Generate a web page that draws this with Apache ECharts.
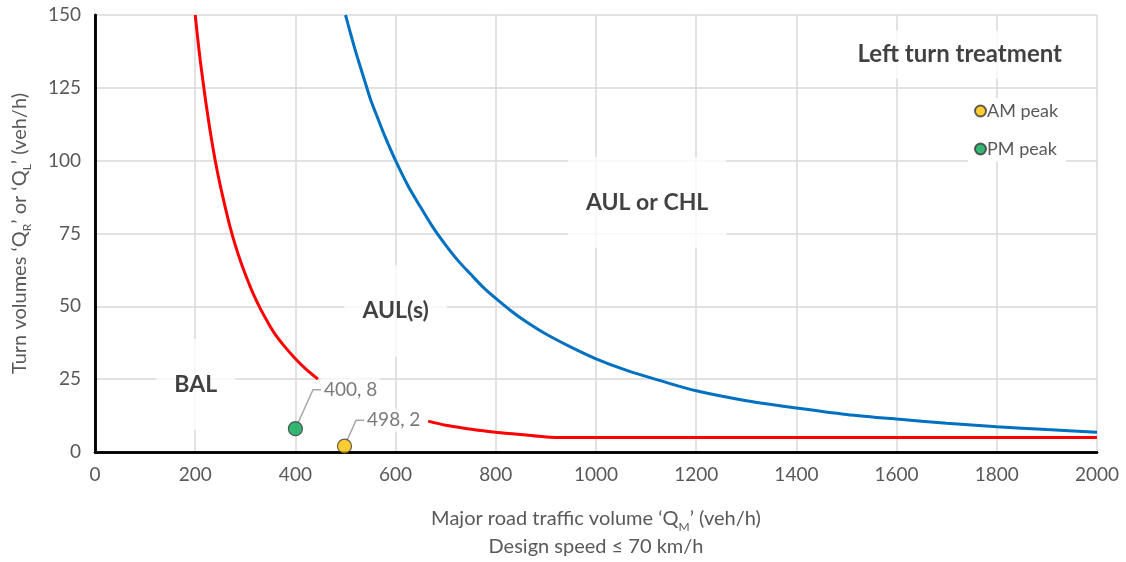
<!DOCTYPE html>
<html><head><meta charset="utf-8">
<script src="https://cdn.jsdelivr.net/npm/echarts@6/dist/echarts.min.js"></script>
<style>html,body{margin:0;padding:0;background:#fff}#c{width:1126px;height:562px}</style>
</head><body><div id="c"></div>
<script>
// ---- data ----
const redX = [200, 205, 210, 215, 220, 230, 240, 250, 260, 270, 280, 290, 300, 315, 330, 345, 360, 380, 400, 420, 445, null, 665, 700, 740, 775, 810, 850, 885, 920, 1000, 1200, 1400, 1600, 1800, 2000];
const redY = [150, 142, 134.5, 128, 121.5, 110, 100, 91.5, 84, 77, 71, 65.7, 61, 54.6, 49.2, 44.5, 40.3, 35.9, 32, 28.6, 25, null, 10.6, 9.2, 8.1, 7.3, 6.6, 6, 5.4, 5, 5, 5, 5, 5, 5, 5];
const blueX = [500, 510, 520, 530, 540, 550, 565, 580, 600, 625, 650, 675, 700, 725, 750, 775, 800, 830, 860, 900, 950, 1000, 1060, 1130, 1200, 1300, 1400, 1500, 1600, 1700, 1800, 1900, 2000];
const blueY = [150, 143.7, 137.6, 132, 126.5, 121, 114.3, 107.8, 100, 91.3, 84, 77, 71, 65.6, 61, 56.5, 52.7, 48.5, 44.8, 40.5, 36, 32, 28.1, 24.4, 21, 17.6, 15.1, 12.9, 11.3, 9.9, 8.7, 7.7, 6.8];
const amX = [498], amY = [2];
const pmX = [400], pmY = [8];
const zoneText = ['BAL', 'AUL(s)', 'AUL or CHL'];
const zoneX = [201, 600, 1102];
const zoneY = [23.2, 48.4, 85.6];
const titleText = ['Left turn treatment'];
const titleX = [1726], titleY = [136.4];

const pairs = (xs, ys) => xs.map((x, i) => x === null ? '-' : [x, ys[i]]);
const FONT = 'Lato';
const GREY = '#595959';
const frameAxis = { show: true, axisLine: { show: true, lineStyle: { color: '#000', width: 2.5 } },
  axisTick: { show: false }, axisLabel: { show: false }, splitLine: { show: false } };

const chart = echarts.init(document.getElementById('c'));
chart.setOption({
  animation: false,
  textStyle: { fontFamily: FONT },
  grid: { left: 95, right: 29, top: 15, bottom: 107 },
  legend: {
    orient: 'vertical', left: 968, top: 98, itemGap: 20, icon: 'circle', itemWidth: 11, itemHeight: 11,
    backgroundColor: '#fff', padding: [4, 8, 4, 6],
    textStyle: { color: GREY, fontSize: 18, fontFamily: FONT, padding: [0, 0, 0, -4] },
    data: ['AM peak', 'PM peak']
  },
  xAxis: [{
    type: 'value', min: 0, max: 2000, interval: 200,
    axisLine: { show: true, onZero: false, lineStyle: { color: '#000', width: 2.5 } }, axisTick: { show: false },
    splitLine: { lineStyle: { color: '#d9d9d9', width: 1.5 } },
    axisLabel: { color: GREY, fontSize: 19, margin: 13, formatter: v => String(v) },
    name: '{a|Major road traffic volume ‘Q}{s|M}{a|’ (veh/h)}\n{a|Design speed ≤ 70 km/h}',
    nameLocation: 'middle', nameGap: 53,
    nameTextStyle: {
      rich: {
        a: { fontSize: 20, color: GREY, fontFamily: FONT, lineHeight: 28 },
        s: { fontSize: 12, color: GREY, fontFamily: FONT, lineHeight: 22, verticalAlign: 'bottom' }
      }
    }
  }, Object.assign({ type: 'value', position: 'top', min: 0, max: 2000 }, frameAxis)],
  yAxis: [{
    type: 'value', min: 0, max: 150, interval: 25,
    axisLine: { show: true, onZero: false, lineStyle: { color: '#000', width: 2.5 } }, axisTick: { show: false },
    splitLine: { lineStyle: { color: '#d9d9d9', width: 1.5 } },
    axisLabel: { color: GREY, fontSize: 19, margin: 14 },
    name: '{a|Turn volumes ‘Q}{s|R}{a|’ or ‘Q}{s|L}{a|’ (veh/h)}',
    nameLocation: 'middle', nameGap: 62, nameRotate: 90,
    nameTextStyle: {
      rich: {
        a: { fontSize: 20, color: GREY, fontFamily: FONT, lineHeight: 26 },
        s: { fontSize: 12, color: GREY, fontFamily: FONT, lineHeight: 20, verticalAlign: 'bottom' }
      }
    }
  }, Object.assign({ type: 'value', position: 'right', min: 0, max: 150 }, frameAxis)],
  series: [
    { name: 'red', type: 'line', data: pairs(redX, redY), smooth: 0.3, showSymbol: false, connectNulls: false,
      lineStyle: { color: '#ff0000', width: 3 }, z: 2 },
    { name: 'blue', type: 'line', data: pairs(blueX, blueY), smooth: 0.3, showSymbol: false,
      lineStyle: { color: '#0070c0', width: 3 }, z: 2 },
    { name: 'zones', type: 'scatter', data: pairs(zoneX, zoneY), symbolSize: 0, z: 4, silent: true,
      label: { show: true, position: 'inside', formatter: p => zoneText[p.dataIndex],
        fontSize: 23, fontWeight: 'bold', color: '#111', fontFamily: FONT,
        backgroundColor: '#fff', padding: [34, 18] } },
    { name: 'title', type: 'scatter', data: pairs(titleX, titleY), symbolSize: 0, z: 4, silent: true,
      label: { show: true, position: 'inside', formatter: p => titleText[p.dataIndex],
        fontSize: 24, fontWeight: 'bold', color: '#111', fontFamily: FONT,
        backgroundColor: '#fff', padding: [12, 10] } },
    { name: 'AM peak', type: 'scatter', data: pairs(amX, amY), symbol: 'circle', symbolSize: 14, z: 5,
      itemStyle: { color: '#ffc000', borderColor: '#3a3a3a', borderWidth: 1.2 },
      label: { show: true, position: 'right', distance: 4, formatter: p => p.value[0] + ', ' + p.value[1],
        color: GREY, fontSize: 19, fontFamily: FONT, backgroundColor: '#fff', padding: [2, 3] },
      labelLayout: { dx: 8, dy: -26 },
      labelLine: { show: true, length2: 8, lineStyle: { color: '#a6a6a6', width: 1.5 } } },
    { name: 'PM peak', type: 'scatter', data: pairs(pmX, pmY), symbol: 'circle', symbolSize: 14, z: 5,
      itemStyle: { color: '#00a550', borderColor: '#3a3a3a', borderWidth: 1.2 },
      label: { show: true, position: 'right', distance: 4, formatter: p => p.value[0] + ', ' + p.value[1],
        color: GREY, fontSize: 19, fontFamily: FONT, backgroundColor: '#fff', padding: [2, 3] },
      labelLayout: { dx: 14, dy: -39 },
      labelLine: { show: true, length2: 8, lineStyle: { color: '#a6a6a6', width: 1.5 } } }
  ]
});
</script></body></html>
